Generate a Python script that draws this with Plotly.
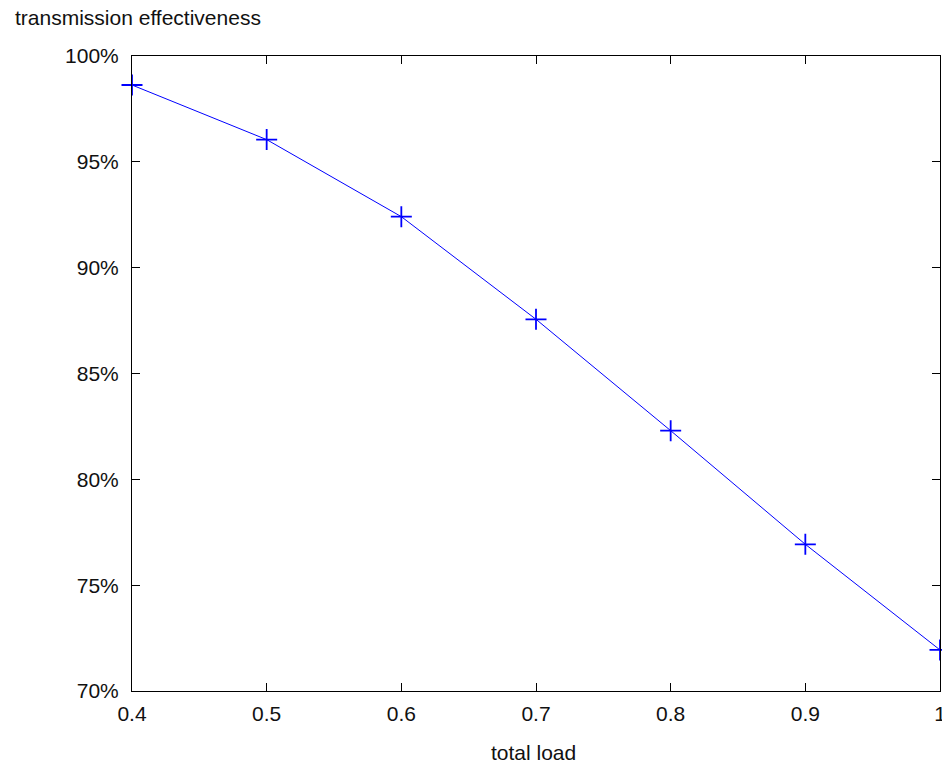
import plotly.graph_objects as go

total_load = [0.4, 0.5, 0.6, 0.7, 0.8, 0.9, 1.0]
effectiveness = [98.63, 96.05, 92.41, 87.56, 82.30, 76.93, 71.94]
x_ticks = [0.4, 0.5, 0.6, 0.7, 0.8, 0.9, 1.0]
x_tick_text = ["0.4", "0.5", "0.6", "0.7", "0.8", "0.9", "1"]
y_ticks = [70, 75, 80, 85, 90, 95, 100]
y_tick_text = ["70%", "75%", "80%", "85%", "90%", "95%", "100%"]

FONT = "Liberation Sans, Arial, sans-serif"
fig = go.Figure()
fig.add_trace(go.Scatter(
    x=total_load, y=effectiveness, mode="lines+markers",
    line=dict(color="#0000ff", width=1),
    marker=dict(symbol="cross-thin", size=15, line=dict(color="#0000ff", width=1.8)),
    cliponaxis=False, showlegend=False,
))

L, R, T, B = 131.5, 940, 56, 691
W, H = 942, 766
pw, ph = R - L, B - T

fig.update_layout(
    width=W, height=H,
    margin=dict(l=L, r=W - R, t=T, b=H - B, pad=0, autoexpand=False),
    paper_bgcolor="white", plot_bgcolor="white",
    font=dict(family=FONT, size=21, color="#111111"),
)
fig.update_xaxes(
    range=[0.4, 1.0], tickvals=x_ticks, ticktext=x_tick_text,
    ticks="inside", ticklen=8, tickwidth=1, tickcolor="black",
    showline=True, linecolor="black", linewidth=1, mirror="ticks",
    showgrid=False, zeroline=False, ticklabelstandoff=4,
    ticklabeloverflow="allow", automargin=False,
)
fig.update_yaxes(
    range=[70, 100], tickvals=y_ticks, ticktext=y_tick_text,
    ticks="inside", ticklen=8, tickwidth=1, tickcolor="black",
    showline=True, linecolor="black", linewidth=1, mirror="ticks",
    showgrid=False, zeroline=False, ticklabelstandoff=8,
    ticklabeloverflow="allow", automargin=False,
)
fig.add_annotation(
    text="transmission effectiveness", xref="paper", yref="paper",
    x=(12 - L) / pw, y=1 + (T - 18) / ph, xanchor="left", yanchor="middle",
    showarrow=False, font=dict(family=FONT, size=21, color="#111111"),
)
fig.add_annotation(
    text="total load", xref="paper", yref="paper",
    x=(533 - L) / pw, y=-(752 - B) / ph, xanchor="center", yanchor="middle",
    showarrow=False, font=dict(family=FONT, size=21, color="#111111"),
)
fig.write_html("out.html")
